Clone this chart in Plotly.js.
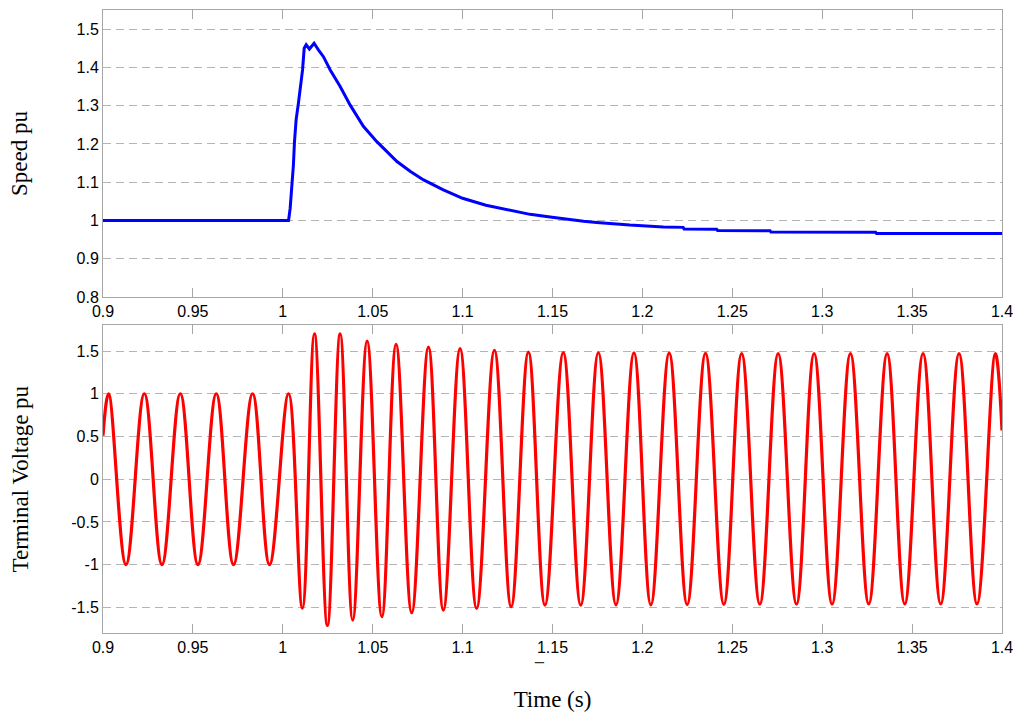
<!DOCTYPE html>
<html>
<head>
<meta charset="utf-8">
<script src="https://cdn.plot.ly/plotly-3.0.1.min.js"></script>
<style>
  html, body { margin: 0; padding: 0; background: #ffffff; }
  #chart { width: 1024px; height: 722px; }
</style>
</head>
<body>
<div id="chart"></div>
<script>
// ---- Data ----
// Rotor speed (pu) versus time (s)
var speedTime = [0.9, 1.0032, 1.0041, 1.0050, 1.0059, 1.0065, 1.0074, 1.0087, 1.0100, 1.0110,
  1.0119, 1.0130, 1.0148, 1.0174, 1.0198, 1.0226, 1.0263, 1.0319, 1.0374, 1.0448,
  1.0523, 1.0587, 1.0635, 1.0710, 1.0783, 1.0893, 1.0931, 1.1000, 1.1130, 1.1302,
  1.1375, 1.1487, 1.1560, 1.1673, 1.1746, 1.1930, 1.2116, 1.2227, 1.2232, 1.2413,
  1.2418, 1.2710, 1.2715, 1.3297, 1.3302, 1.4];
var speedVal = [1.000, 1.000, 1.032, 1.080, 1.145, 1.206, 1.263, 1.307, 1.350, 1.394,
  1.450, 1.459, 1.448, 1.463, 1.446, 1.428, 1.394, 1.350, 1.302, 1.246,
  1.206, 1.176, 1.154, 1.128, 1.106, 1.080, 1.072, 1.058, 1.040, 1.022,
  1.016, 1.009, 1.004, 0.998, 0.995, 0.988, 0.983, 0.982, 0.978, 0.977,
  0.974, 0.973, 0.970, 0.969, 0.966, 0.966];

// Terminal voltage (pu): start value, successive peaks / troughs, end value
var voltTime = [0.9, 0.9031, 0.9128, 0.9230, 0.9328, 0.9430, 0.9528, 0.9630, 0.9726, 0.9832,
  0.9926, 1.0032, 1.0109, 1.0176, 1.0248, 1.0319, 1.0389, 1.0469, 1.0551, 1.0630,
  1.0717, 1.0810, 1.0893, 1.0986, 1.1078, 1.1177, 1.1270, 1.1366, 1.1458, 1.1560,
  1.1657, 1.1755, 1.1853, 1.1953, 1.2047, 1.2149, 1.2249, 1.2351, 1.2453, 1.2552,
  1.2653, 1.2755, 1.2857, 1.2955, 1.3055, 1.3157, 1.3259, 1.3361, 1.3459, 1.3561,
  1.3659, 1.3761, 1.3861, 1.3963, 1.4];
var voltVal = [0.51, 1.00, -1.00, 1.00, -1.00, 1.00, -1.00, 1.00, -1.00, 1.00,
  -1.00, 1.00, -1.51, 1.70, -1.71, 1.70, -1.65, 1.617, -1.61, 1.578,
  -1.563, 1.547, -1.532, 1.528, -1.512, 1.508, -1.493, 1.488, -1.473, 1.481,
  -1.473, 1.480, -1.470, 1.478, -1.470, 1.475, -1.468, 1.473, -1.465, 1.470,
  -1.463, 1.470, -1.462, 1.470, -1.462, 1.470, -1.460, 1.470, -1.460, 1.470,
  -1.460, 1.470, -1.460, 1.470, 0.57];

// Tick labels
var xTickVals = [0.9, 0.95, 1.0, 1.05, 1.1, 1.15, 1.2, 1.25, 1.3, 1.35, 1.4];
var xTickText = ["0.9", "0.95", "1", "1.05", "1.1", "1.15", "1.2", "1.25", "1.3", "1.35", "1.4"];
var speedTickVals = [0.8, 0.9, 1.0, 1.1, 1.2, 1.3, 1.4, 1.5];
var speedTickText = ["0.8", "0.9", "1", "1.1", "1.2", "1.3", "1.4", "1.5"];
var voltTickVals = [-1.5, -1, -0.5, 0, 0.5, 1, 1.5];
var voltTickText = ["-1.5", "-1", "-0.5", "0", "0.5", "1", "1.5"];

// ---- Styling ----
var frameColor = "#a6a6a6";
var gridColor = "#b4b4b4";
var tickFont = { family: "Liberation Sans, Arial, sans-serif", size: 16, color: "#000000" };
var titleFont = { family: "Liberation Serif, Times New Roman, serif", size: 23, color: "#000000" };

function xAxis(anchor, withTitle) {
  var ax = {
    anchor: anchor,
    range: [0.9, 1.4],
    tickvals: xTickVals,
    ticktext: xTickText,
    ticks: "inside",
    ticklen: 9,
    tickwidth: 1,
    tickcolor: frameColor,
    showline: true,
    linecolor: frameColor,
    linewidth: 1,
    mirror: "ticks",
    showgrid: false,
    zeroline: false,
    tickfont: tickFont,
    fixedrange: true
  };
  if (withTitle) {
    ax.title = { text: "Time (s)", font: titleFont, standoff: 35 };
  }
  return ax;
}

function yAxis(anchor, domain, range, vals, text, title, standoff) {
  return {
    anchor: anchor,
    domain: domain,
    range: range,
    tickvals: vals,
    ticktext: text,
    ticks: "",
    showline: true,
    linecolor: frameColor,
    linewidth: 1,
    mirror: true,
    showgrid: true,
    gridcolor: gridColor,
    gridwidth: 1,
    griddash: "8px,5px",
    zeroline: false,
    tickfont: tickFont,
    title: { text: title, font: titleFont, standoff: standoff },
    fixedrange: true
  };
}

var traces = [
  {
    x: speedTime, y: speedVal,
    xaxis: "x", yaxis: "y",
    type: "scatter", mode: "lines",
    line: { color: "#0000ff", width: 3 },
    hoverinfo: "skip", showlegend: false
  },
  {
    x: voltTime, y: voltVal,
    xaxis: "x2", yaxis: "y2",
    type: "scatter", mode: "lines",
    line: { color: "#ff0000", width: 3.2, shape: "spline", smoothing: 1.1 },
    hoverinfo: "skip", showlegend: false
  }
];

var layout = {
  width: 1024,
  height: 722,
  margin: { l: 103, r: 22, t: 10, b: 89 },
  paper_bgcolor: "#ffffff",
  plot_bgcolor: "#ffffff",
  showlegend: false,
  xaxis: xAxis("y", false),
  yaxis: yAxis("x", [0.5393, 1], [0.8, 1.55], speedTickVals, speedTickText, "Speed pu", 42),
  xaxis2: xAxis("y2", true),
  yaxis2: yAxis("x2", [0, 0.4937], [-1.8, 1.8], voltTickVals, voltTickText, "Terminal Voltage pu", 36),
  annotations: [
    {
      xref: "paper", yref: "paper",
      x: (539 - 103) / 899, y: -(655 - 633) / 623,
      xanchor: "center", yanchor: "middle",
      text: "_", showarrow: false,
      font: { family: "Liberation Sans, Arial, sans-serif", size: 16, color: "#333333" }
    }
  ]
};

Plotly.newPlot("chart", traces, layout, { displayModeBar: false, staticPlot: true });
</script>
</body>
</html>
